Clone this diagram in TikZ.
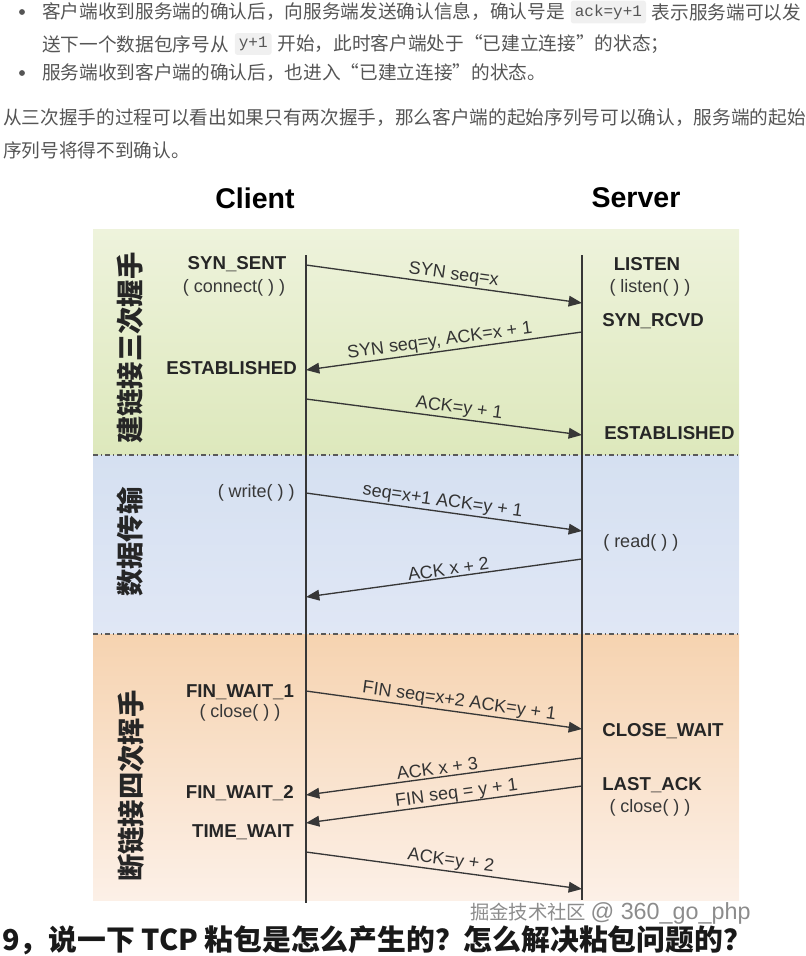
\documentclass[tikz,border=0pt]{standalone}
\usepackage{fontspec}
\setmainfont{Liberation Sans}
\newfontfamily\cjk{Noto Sans CJK SC}
\newfontfamily\codefont{Liberation Mono}
\usetikzlibrary{arrows.meta,positioning}

\definecolor{bodygray}{RGB}{85,85,85}
\definecolor{codebg}{RGB}{240,240,240}
\definecolor{linegray}{RGB}{55,55,55}
\definecolor{greentop}{RGB}{238,243,220}
\definecolor{greenbot}{RGB}{221,232,188}
\definecolor{bluetop}{RGB}{213,224,241}
\definecolor{bluebot}{RGB}{224,231,245}
\definecolor{orangetop}{RGB}{246,211,176}
\definecolor{orangebot}{RGB}{252,240,231}

\tikzset{
  body/.style={anchor=west,inner sep=0pt,text=bodygray,font=\cjk\fontsize{14}{17}\selectfont},
  code/.style={anchor=west,fill=codebg,rounded corners=2pt,inner xsep=3pt,inner ysep=3pt,text=bodygray,font=\codefont\fontsize{12}{14}\selectfont},
  head/.style={font=\bfseries\fontsize{21.4}{24}\selectfont,text=black},
  state/.style={font=\bfseries\fontsize{14}{16}\selectfont,text=black!85,inner sep=0pt},
  call/.style={font=\fontsize{13.5}{16}\selectfont,text=black!78,inner sep=0pt},
  phase/.style={rotate=90,font=\cjk\bfseries\fontsize{20.5}{24}\selectfont,text=black!85,inner sep=0pt},
  life/.style={draw=linegray,line width=1.3pt},
  msg/.style={draw=linegray,line width=1pt,-{Triangle[length=10pt,width=8pt]}},
  lab/.style={sloped,above,inner sep=1pt,font=\fontsize{13.5}{15}\selectfont,text=black!80},
  sep/.style={draw=black!65,dash pattern=on 4pt off 2pt on 1pt off 2pt,line width=0.8pt}
}

\begin{document}
\begin{tikzpicture}[x=0.75pt,y=-0.75pt]
  \useasboundingbox (0,0) rectangle (806,956);
  \clip (0,0) rectangle (806,956);

  % text above the figure
  \fill[bodygray] (22,12) circle (2.2pt);
  \node[body] (l1) at (42,12) {客户端收到服务端的确认后，向服务端发送确认信息，确认号是};
  \node[code,right=4pt of l1] (k1) {ack=y+1};
  \node[body,right=4pt of k1] (l1b) {表示服务端可以发};
  \node[body] (l2) at (42,44) {送下一个数据包序号从};
  \node[code,right=4pt of l2] (k2) {y+1};
  \node[body,right=4pt of k2] (l2b) {开始，此时客户端处于“已建立连接”的状态；};
  \fill[bodygray] (22,73) circle (2.2pt);
  \node[body] (l3) at (42,73) {服务端收到客户端的确认后，也进入“已建立连接”的状态。};
  \node[body] (p1) at (3,118) {从三次握手的过程可以看出如果只有两次握手，那么客户端的起始序列号可以确认，服务端的起始};
  \node[body] (p2) at (3,150) {序列号将得不到确认。};

  % panels
  \shade[top color=greentop,bottom color=greenbot] (93,229) rectangle (739,455);
  \shade[top color=bluetop,bottom color=bluebot] (93,455) rectangle (739,634);
  \shade[top color=orangetop,bottom color=orangebot] (93,634) rectangle (739,900);
  \draw[sep] (93,455) -- (739,455);
  \draw[sep] (93,634) -- (739,634);

  \node[head] (client) at (255,198) {Client};
  \node[head] (server) at (636,198) {Server};

  \node[phase] (ph1) at (130,348) {建链接三次握手};
  \node[phase] (ph2) at (130,542) {数据传输};
  \node[phase] (ph3) at (131,786) {断链接四次挥手};

  % lifelines
  \coordinate (ctop) at (306,255);
  \coordinate (cbot) at (306,903);
  \coordinate (stop) at (582,255);
  \coordinate (sbot) at (582,900);
  \draw[life] (ctop) -- (cbot);
  \draw[life] (stop) -- (sbot);

  % client states
  \node[state] (synsent) at (237,264) {SYN\_SENT};
  \node[call] (connect) at (234,288) {( connect( ) )};
  \node[state,anchor=east] (cest) at (297,368) {ESTABLISHED};
  \node[call,anchor=east] (write) at (295,493) {( write( ) )};
  \node[state] (fw1) at (240,692) {FIN\_WAIT\_1};
  \node[call] (cclose) at (240,713) {( close( ) )};
  \node[state,anchor=east] (fw2) at (294,793) {FIN\_WAIT\_2};
  \node[state,anchor=east] (tw) at (294,832) {TIME\_WAIT};

  % server states
  \node[state] (listen) at (647,264) {LISTEN};
  \node[call] (listencall) at (650,288) {( listen( ) )};
  \node[state,anchor=west] (rcvd) at (602,321) {SYN\_RCVD};
  \node[state,anchor=west] (sest) at (604,433) {ESTABLISHED};
  \node[call,anchor=west] (read) at (603,543) {( read( ) )};
  \node[state,anchor=west] (cw) at (602,731) {CLOSE\_WAIT};
  \node[state,anchor=west] (lack) at (602,785) {LAST\_ACK};
  \node[call] (sclose) at (650,808) {( close( ) )};

  % messages
  \coordinate (c1) at (306,265);  \coordinate (s1) at (582,303);
  \coordinate (s2) at (582,332);  \coordinate (c2) at (306,370);
  \coordinate (c3) at (306,399);  \coordinate (s3) at (582,435);
  \coordinate (c4) at (306,493);  \coordinate (s4) at (582,531);
  \coordinate (s5) at (582,559);  \coordinate (c5) at (306,597);
  \coordinate (c6) at (306,691);  \coordinate (s6) at (582,729);
  \coordinate (s7) at (582,758);  \coordinate (c7) at (306,795);
  \coordinate (s8) at (582,786);  \coordinate (c8) at (306,823);
  \coordinate (c9) at (306,852);  \coordinate (s9) at (582,889);
  \draw[msg] (c1) -- node[lab,pos=0.53] (m1) {SYN seq=x} (s1);
  \draw[msg] (s2) -- node[lab,pos=0.51] (m2) {SYN seq=y, ACK=x + 1} (c2);
  \draw[msg] (c3) -- node[lab,pos=0.55] (m3) {ACK=y + 1} (s3);
  \draw[msg] (c4) -- node[lab,pos=0.49] (m4) {seq=x+1 ACK=y + 1} (s4);
  \draw[msg] (s5) -- node[lab,pos=0.48] (m5) {ACK x + 2} (c5);
  \draw[msg] (c6) -- node[lab,pos=0.55] (m6) {FIN seq=x+2 ACK=y + 1} (s6);
  \draw[msg] (s7) -- node[lab,pos=0.52,inner sep=1.5pt] (m7) {ACK x + 3} (c7);
  \draw[msg] (s8) -- node[lab,pos=0.45,inner sep=0pt] (m8) {FIN seq = y + 1} (c8);
  \draw[msg] (c9) -- node[lab,pos=0.52] (m9) {ACK=y + 2} (s9);

  % text below the figure
  \node[anchor=west,inner sep=0pt,text=black!45,font=\cjk\fontsize{14.5}{17}\selectfont] (wm) at (470,913) {掘金技术社区 {\rmfamily\fontsize{17.5}{18}\selectfont @ 360\_go\_php}};
  \node[anchor=west,inner sep=0pt,text=black!90,font=\cjk\bfseries\fontsize{21.6}{24}\selectfont] (q9) at (2,940) {9，说一下 TCP 粘包是怎么产生的？怎么解决粘包问题的？};
\end{tikzpicture}
\end{document}
